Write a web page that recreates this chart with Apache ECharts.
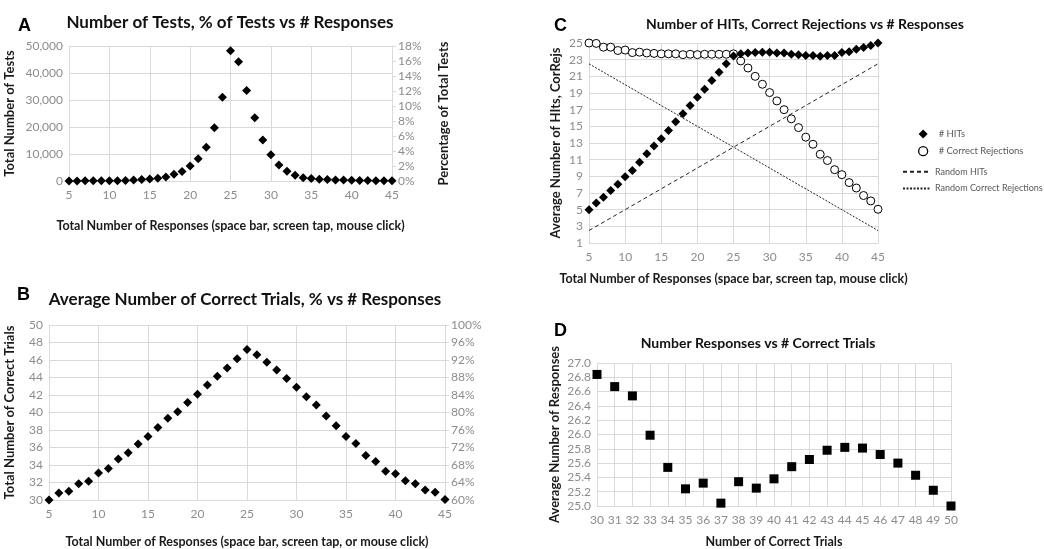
<!DOCTYPE html>
<html><head><meta charset="utf-8">
<script src="https://cdn.jsdelivr.net/npm/echarts@6/dist/echarts.min.js"></script>
<style>html,body{margin:0;padding:0;background:#fff}#c{width:1044px;height:549px}</style>
</head><body><div id="c"></div>
<script>
// ---- Data ----
const responsesX = [5,6,7,8,9,10,11,12,13,14,15,16,17,18,19,20,21,22,23,24,25,26,27,28,29,30,31,32,33,34,35,36,37,38,39,40,41,42,43,44,45];
// Panel A: total number of tests
const totalTests = [30,40,50,60,70,80,100,150,350,550,750,1000,1500,2500,3500,5600,8200,12500,19700,31000,48200,44200,33500,23400,15200,9700,5900,3600,2100,1200,900,650,550,400,350,250,200,150,120,100,80];
// Panel B: average number of correct trials
const correctTrials = [30.0,30.8,31.0,31.85,32.15,33.1,33.6,34.7,35.4,36.4,37.25,38.3,39.35,40.1,41.15,42.1,43.15,44.15,45.1,46.15,47.2,46.6,45.75,44.85,43.9,42.9,41.8,40.85,39.6,38.5,37.25,36.45,35.1,34.4,33.3,33.0,32.2,31.85,31.15,30.9,30.05];
// Panel C
const hits = [5.0,5.8,6.5,7.3,8.05,8.95,9.7,10.7,11.7,12.65,13.5,14.5,15.55,16.5,17.5,18.5,19.45,20.5,21.5,22.5,23.45,23.7,23.8,23.85,23.9,23.9,23.8,23.8,23.65,23.6,23.5,23.5,23.4,23.5,23.5,23.85,23.95,24.25,24.45,24.7,25.0];
const correctRejections = [25.0,24.95,24.5,24.5,24.1,24.15,23.85,23.9,23.8,23.75,23.7,23.7,23.7,23.6,23.65,23.6,23.65,23.65,23.65,23.65,23.7,22.85,22.0,21.0,20.05,19.05,18.05,17.0,15.9,14.85,13.7,12.85,11.65,10.9,9.8,9.2,8.25,7.6,6.7,6.05,5.05];
const randomX = [5,45];
const randomHits = [2.5,22.5];
const randomCorrectRejections = [22.5,2.5];
// Panel D
const correctTrialsX = [30,31,32,33,34,35,36,37,38,39,40,41,42,43,44,45,46,47,48,49,50];
const avgResponses = [26.84,26.67,26.54,25.99,25.54,25.24,25.32,25.04,25.34,25.25,25.38,25.55,25.65,25.78,25.82,25.81,25.72,25.60,25.43,25.22,25.00];

const pair = (xs, ys) => xs.map((x,i)=>[x, ys[i]]);

const FONT = 'Lato';
const GRID = '#d9d9d9';
const LBL = '#8c8c8c';
function xAx(gi, min, max, interval, name, gap){
  return {type:'value', gridIndex:gi, min, max, interval,
    axisLine:{show:true,lineStyle:{color:GRID}}, axisTick:{show:false},
    axisLabel:{color:LBL, fontFamily:FONT, fontSize:12, margin:8},
    splitLine:{show:true,lineStyle:{color:GRID,width:1}},
    name, nameLocation:'middle', nameGap:gap,
    nameTextStyle:{color:'#1a1a1a', fontFamily:FONT, fontWeight:'bold', fontSize:12.5}};
}
function yAx(gi, min, max, interval, name, gap, fmt, pos, split){
  return {type:'value', gridIndex:gi, min, max, interval, position:pos||'left',
    axisLine:{show:true,lineStyle:{color:GRID}}, axisTick:{show:pos==='right', length:4, lineStyle:{color:GRID}},
    axisLabel:{color:LBL, fontFamily:FONT, fontSize:12, margin:6, formatter:fmt},
    splitLine:{show:split!==false,lineStyle:{color:GRID,width:1}},
    name, nameLocation:'middle', nameGap:gap, nameRotate:90,
    nameTextStyle:{color:'#1a1a1a', fontFamily:FONT, fontWeight:'bold', fontSize:13}};
}
const titleStyle = (size)=>({color:'#111', fontFamily:FONT, fontWeight:'bold', fontSize:size});
const blk = {color:'#000', opacity:1};

const option = {
  animation:false,
  backgroundColor:'#fff',
  title:[
    {text:'Number of Tests, % of Tests vs # Responses', left:225, top:9, textAlign:'center', textStyle:titleStyle(17)},
    {text:'Average Number of Correct Trials, % vs # Responses', left:240, top:286, textAlign:'center', textStyle:titleStyle(17)},
    {text:'Number of HITs, Correct Rejections vs # Responses', left:800, top:12, textAlign:'center', textStyle:titleStyle(14)},
    {text:'Number Responses vs # Correct Trials', left:753, top:331, textAlign:'center', textStyle:titleStyle(14)},
    {text:'A', left:13, top:12, textStyle:{color:'#000', fontFamily:'Liberation Sans', fontWeight:'bold', fontSize:18}},
    {text:'B', left:12, top:281, textStyle:{color:'#000', fontFamily:'Liberation Sans', fontWeight:'bold', fontSize:18}},
    {text:'C', left:549, top:12, textStyle:{color:'#000', fontFamily:'Liberation Sans', fontWeight:'bold', fontSize:18}},
    {text:'D', left:549, top:317, textStyle:{color:'#000', fontFamily:'Liberation Sans', fontWeight:'bold', fontSize:18}}
  ],
  legend:[
    {left:913, top:124, orient:'vertical', itemGap:7, itemWidth:9, itemHeight:9,
     textStyle:{color:'#595959', fontFamily:FONT, fontSize:9.5, padding:[0,0,0,6]},
     data:[{name:'# HITs', icon:'diamond'},
           {name:'# Correct Rejections', icon:'circle', itemStyle:{color:'#fff', borderColor:'#000', borderWidth:1.3}}]},
    {left:897, top:162, orient:'vertical', itemGap:7, itemWidth:27, itemHeight:12,
     textStyle:{color:'#595959', fontFamily:FONT, fontSize:9},
     data:[{name:'Random HITs', itemStyle:{opacity:0}},{name:'Random Correct Rejections', itemStyle:{opacity:0}}]}
  ],
  grid:[
    {left:69, top:46, width:323, height:135},
    {left:49, top:325, width:396, height:177},
    {left:589, top:43, width:289, height:200},
    {left:597, top:363, width:354, height:152}
  ],
  xAxis:[
    xAx(0,5,45,5,'Total Number of Responses (space bar, screen tap, mouse click)',38),
    xAx(1,5,45,5,'Total Number of Responses (space bar, screen tap, or mouse click)',35),
    xAx(2,5,45,5,'Total Number of Responses (space bar, screen tap, mouse click)',29),
    xAx(3,30,50,1,'Number of Correct Trials',29)
  ],
  yAxis:[
    yAx(0,0,50000,10000,'Total Number of Tests',53,v=>v.toLocaleString('en-US')),
    yAx(0,0,18,2,'Percentage of Total Tests',45,v=>v+'%','right',false),
    yAx(1,30,50,2,'Total Number of Correct Trials',33,v=>v),
    yAx(1,60,100,4,'',40,v=>v+'%','right',false),
    yAx(2,1,25,2,'Average Number of HIts, CorRejs',27,v=>v),
    yAx(3,25,27,0.2,'Average Number of Responses',36,v=>v.toFixed(1))
  ],
  series:[
    {name:'Tests', type:'scatter', xAxisIndex:0, yAxisIndex:0, symbol:'diamond', symbolSize:9,
     itemStyle:blk, data:pair(responsesX,totalTests)},
    {name:'Correct Trials', type:'scatter', xAxisIndex:1, yAxisIndex:2, symbol:'diamond', symbolSize:9,
     itemStyle:blk, data:pair(responsesX,correctTrials)},
    {name:'# HITs', type:'scatter', xAxisIndex:2, yAxisIndex:4, symbol:'diamond', symbolSize:9,
     itemStyle:blk, data:pair(responsesX,hits), z:3},
    {name:'# Correct Rejections', type:'scatter', xAxisIndex:2, yAxisIndex:4, symbol:'circle', symbolSize:8,
     itemStyle:{color:'#fff', borderColor:'#000', borderWidth:1, opacity:1}, data:pair(responsesX,correctRejections), z:2},
    {name:'Random HITs', type:'line', xAxisIndex:2, yAxisIndex:4, symbol:'none',
     lineStyle:{color:'#222', width:1, type:[4,3]}, itemStyle:{color:'#222'}, data:pair(randomX,randomHits)},
    {name:'Random Correct Rejections', type:'line', xAxisIndex:2, yAxisIndex:4, symbol:'none',
     lineStyle:{color:'#222', width:1, type:[2,1.5]}, itemStyle:{color:'#222'}, data:pair(randomX,randomCorrectRejections)},
    {name:'Avg Responses', type:'scatter', xAxisIndex:3, yAxisIndex:5, symbol:'rect', symbolSize:9,
     itemStyle:blk, data:pair(correctTrialsX,avgResponses)}
  ]
};
const chart = echarts.init(document.getElementById('c'), null, {renderer:'canvas'});
chart.setOption(option);
</script></body></html>
